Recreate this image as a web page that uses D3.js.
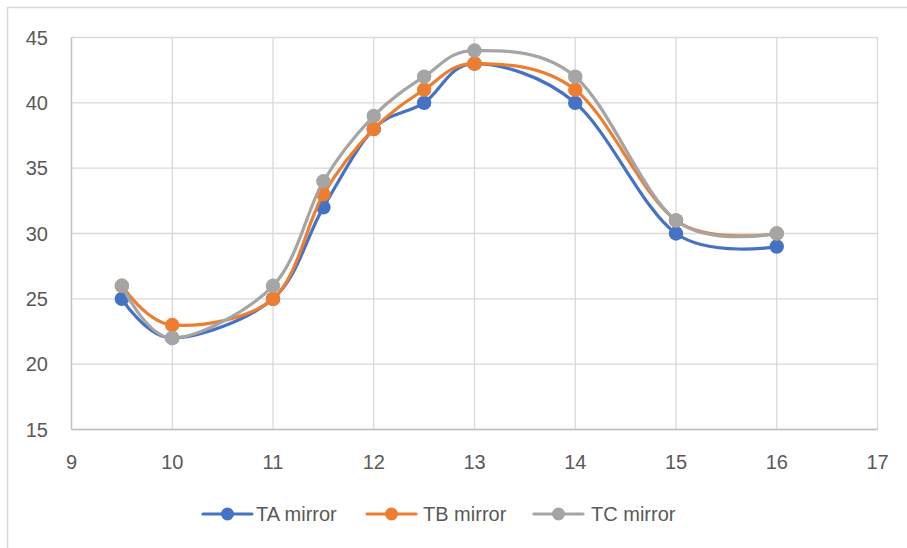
<!DOCTYPE html>
<html><head><meta charset="utf-8">
<script src="https://cdn.jsdelivr.net/npm/d3@7"></script>
<style>body{margin:0;background:#fff}svg{display:block}</style>
</head><body>
<svg id="c" width="907" height="548"></svg>
<script>
const xValues = [9.5, 10, 11, 11.5, 12, 12.5, 13, 14, 15, 16];
const taMirror = [25, 22, 25, 32, 38, 40, 43, 40, 30, 29];
const tbMirror = [26, 23, 25, 33, 38, 41, 43, 41, 31, 30];
const tcMirror = [26, 22, 26, 34, 39, 42, 44, 42, 31, 30];
const seriesNames = ["TA mirror", "TB mirror", "TC mirror"];
const xTicks = [9, 10, 11, 12, 13, 14, 15, 16, 17];
const yTicks = [15, 20, 25, 30, 35, 40, 45];

const colors = ["#4472C4", "#ED7D31", "#A5A5A5"];
const seriesVals = [taMirror, tbMirror, tcMirror];
const svg = d3.select("#c");
const font = "'Liberation Sans', Arial, sans-serif";

// outer frame
svg.append("rect").attr("x", 7.5).attr("y", 7.5).attr("width", 920).attr("height", 560)
  .attr("fill", "#fff").attr("stroke", "#d9d9d9").attr("stroke-width", 1.5);

const x = d3.scaleLinear().domain([9, 17]).range([71.5, 877.5]);
const y = d3.scaleLinear().domain([15, 45]).range([429.5, 37.5]);

const g = svg.append("g");
g.selectAll(".hg").data(yTicks).join("line")
  .attr("x1", x(9)).attr("x2", x(17)).attr("y1", d => y(d)).attr("y2", d => y(d))
  .attr("stroke", "#d9d9d9").attr("stroke-width", 1.3);
g.selectAll(".vg").data(xTicks).join("line")
  .attr("y1", y(15)).attr("y2", y(45)).attr("x1", d => x(d)).attr("x2", d => x(d))
  .attr("stroke", "#d9d9d9").attr("stroke-width", 1.3);
g.append("line").attr("x1", x(9)).attr("x2", x(17)).attr("y1", y(15)).attr("y2", y(15))
  .attr("stroke", "#bfbfbf").attr("stroke-width", 1.3);
g.append("line").attr("x1", x(9)).attr("x2", x(9)).attr("y1", y(15)).attr("y2", y(45))
  .attr("stroke", "#bfbfbf").attr("stroke-width", 1.3);

g.selectAll(".yl").data(yTicks).join("text")
  .attr("x", 48).attr("y", d => y(d)).attr("dy", "0.35em").attr("text-anchor", "end")
  .attr("font-family", font).attr("font-size", 20).attr("fill", "#595959").text(d => d);
g.selectAll(".xl").data(xTicks).join("text")
  .attr("x", d => x(d)).attr("y", 462).attr("dy", "0.35em").attr("text-anchor", "middle")
  .attr("font-family", font).attr("font-size", 20).attr("fill", "#595959").text(d => d);

const line = d3.line().x(d => x(d[0])).y(d => y(d[1])).curve(d3.curveCardinal.tension(0));
seriesVals.forEach((vals, i) => {
  const pts = xValues.map((xv, j) => [xv, vals[j]]);
  const sg = svg.append("g");
  sg.append("path").attr("d", line(pts)).attr("fill", "none")
    .attr("stroke", colors[i]).attr("stroke-width", 3.2).attr("stroke-linecap", "round");
  sg.selectAll("circle").data(pts).join("circle")
    .attr("cx", d => x(d[0])).attr("cy", d => y(d[1])).attr("r", 7.2)
    .attr("fill", colors[i]);
});

const legX = [203, 367, 534];
const leg = svg.append("g");
seriesNames.forEach((name, i) => {
  const lx = legX[i];
  leg.append("line").attr("x1", lx).attr("x2", lx + 49).attr("y1", 514).attr("y2", 514)
    .attr("stroke", colors[i]).attr("stroke-width", 3.2).attr("stroke-linecap", "round");
  leg.append("circle").attr("cx", lx + 24.5).attr("cy", 514).attr("r", 6.5).attr("fill", colors[i]);
  leg.append("text").attr("x", lx + 53 + (i === 1 ? 3 : 0) + (i === 2 ? 4 : 0)).attr("y", 514).attr("dy", "0.35em")
    .attr("font-family", font).attr("font-size", 20).attr("fill", "#595959").text(name);
});
</script>
</body></html>
